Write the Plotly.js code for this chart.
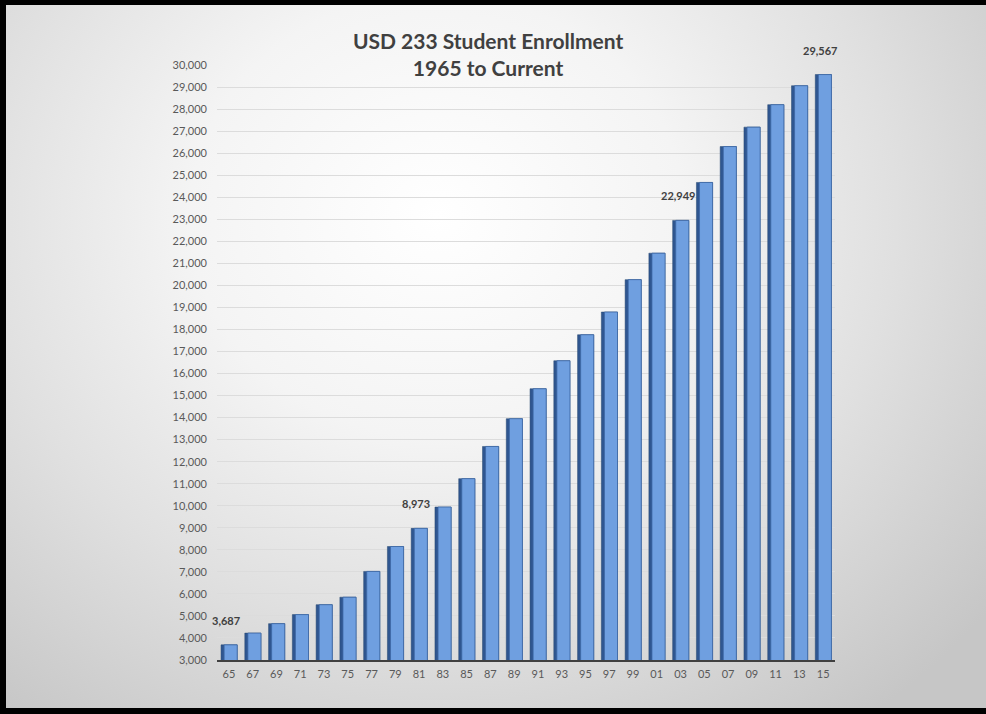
<!DOCTYPE html>
<html>
<head>
<meta charset="utf-8">
<script src="https://cdn.plot.ly/plotly-3.0.1.min.js"></script>
<style>
  html, body { margin: 0; padding: 0; background: #000; width: 986px; height: 714px; overflow: hidden; }
  #bg { position: absolute; left: 6px; top: 5px; right: 0; bottom: 6px;
        background: radial-gradient(ellipse 72% 90% at 44% 30%, #ffffff 0%, #f4f4f4 35%, #e0e0e0 65%, #c6c6c6 100%); }
  #chart { position: absolute; left: 0; top: 0; width: 986px; height: 714px; }
</style>
</head>
<body>
<div id="bg"></div>
<div id="chart"></div>
<script>
// Data
const years = ['65','67','69','71','73','75','77','79','81','83','85','87','89','91','93','95','97','99','01','03','05','07','09','11','13','15'];
const enrollment = [3687, 4220, 4650, 5060, 5510, 5850, 7020, 8150, 8973, 9940, 11230, 12690, 13950, 15310, 16580, 17760, 18790, 20260, 21460, 22949, 24670, 26300, 27180, 28200, 29060, 29567];
const labeledYears = ['65', '81', '03', '15'];
const yTickVals = [3000,4000,5000,6000,7000,8000,9000,10000,11000,12000,13000,14000,15000,16000,17000,18000,19000,20000,21000,22000,23000,24000,25000,26000,27000,28000,29000,30000];

const fontFam = 'Lato, "Open Sans", "DejaVu Sans", sans-serif';

// numeric positions of categories (index along the category axis)
const xIdx = years.map((_, i) => i);

const sideTrace = {
  type: 'bar', x: xIdx, y: enrollment,
  width: 0.68, offset: -0.33,
  marker: { color: '#2f5690', line: { color: '#24466f', width: 0.5 } },
  hoverinfo: 'skip', showlegend: false
};
const frontTrace = {
  type: 'bar', x: xIdx, y: enrollment,
  width: 0.55, offset: -0.20,
  marker: { color: '#6f9fe0', line: { color: '#3d68a6', width: 0.8 } },
  showlegend: false
};

const annotations = labeledYears.map(yr => {
  const i = years.indexOf(yr);
  return {
    x: i, y: enrollment[i], xref: 'x', yref: 'y',
    text: enrollment[i].toLocaleString('en-US'),
    showarrow: false, yanchor: 'bottom', yshift: 16, xshift: -3,
    font: { family: fontFam, size: 11, color: '#404040', weight: 'bold' }
  };
});

const layout = {
  width: 986, height: 714,
  paper_bgcolor: 'rgba(0,0,0,0)', plot_bgcolor: 'rgba(0,0,0,0)',
  margin: { l: 217, r: 151, t: 65, b: 54 },
  barmode: 'overlay',
  title: {
    text: '<b>USD 233 Student Enrollment<br>1965 to Current</b>',
    xref: 'container', x: 0.495, xanchor: 'center',
    yref: 'container', y: 1 - 49/714, yanchor: 'top',
    font: { family: fontFam, size: 21, color: '#404040' }
  },
  xaxis: {
    type: 'linear', range: [-0.5, years.length - 0.5],
    tickmode: 'array', tickvals: xIdx, ticktext: years,
    showline: true, linecolor: '#404040', linewidth: 1.5,
    showgrid: false, ticks: '', zeroline: false,
    tickfont: { family: fontFam, size: 11, color: '#595959' },
    ticklabelstandoff: 3
  },
  yaxis: {
    range: [3000, 30000], tickvals: yTickVals, tickformat: ',',
    showgrid: true, gridcolor: '#dcdcdc', gridwidth: 1,
    zeroline: false, showline: false, ticks: '',
    tickfont: { family: fontFam, size: 11, color: '#595959' },
    ticklabelstandoff: 9
  },
  annotations: annotations
};

Plotly.newPlot('chart', [sideTrace, frontTrace], layout, { displayModeBar: false, staticPlot: true });
</script>
</body>
</html>
